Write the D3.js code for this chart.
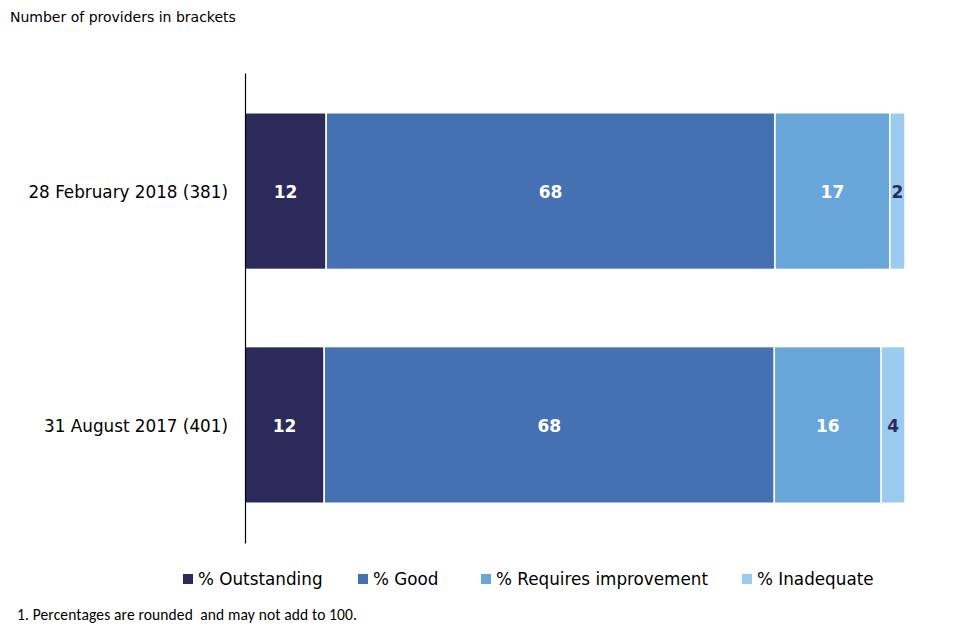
<!DOCTYPE html>
<html><head><meta charset="utf-8">
<script src="https://cdn.jsdelivr.net/npm/d3@7"></script>
<style>body{margin:0;background:#fff}</style>
</head><body>
<svg id="c" width="960" height="640"></svg>
<script>
const categories = ["28 February 2018 (381)", "31 August 2017 (401)"];
const seriesNames = ["% Outstanding", "% Good", "% Requires improvement", "% Inadequate"];
const outstanding = [12.3, 12.0];
const good = [68.0, 68.2];
const requiresImprovement = [17.4, 16.2];
const inadequate = [2.3, 3.6];
const labels = [[12, 68, 17, 2], [12, 68, 16, 4]];
const colors = ["#2b2a5a", "#4571b3", "#68a6da", "#9ccbf0"];
const labelColors = ["#fff", "#fff", "#fff", "#2b2a5a"];

const font = "'DejaVu Sans', Tahoma, sans-serif";
const svg = d3.select("#c");
const x0 = 245, x1 = 905, yTop = 73, yBot = 543;

const data = categories.map((c, i) => ({cat: c, vals: [outstanding[i], good[i], requiresImprovement[i], inadequate[i]], labs: labels[i]}));
const x = d3.scaleLinear().domain([0, 100]).range([x0, x1]);
const y = d3.scaleBand().domain(categories).range([yTop, yBot]).paddingInner(0.33).paddingOuter(0.17);

svg.append("text").attr("x", 10).attr("y", 22).attr("font-family", font).attr("font-size", 14).attr("fill", "#000").text("Number of providers in brackets");

data.forEach((d, i) => {
  let acc = 0;
  const g = svg.append("g");
  d.vals.forEach((v, j) => {
    const xs = x(acc), xe = x(acc + v);
    g.append("rect").attr("x", xs).attr("y", y(d.cat)).attr("width", xe - xs).attr("height", y.bandwidth())
      .attr("fill", colors[j]).attr("stroke", "#fff").attr("stroke-width", 1.5);
    g.append("text").attr("x", (xs + xe) / 2).attr("y", y(d.cat) + y.bandwidth() / 2).attr("dy", "0.42em")
      .attr("text-anchor", "middle").attr("font-family", font).attr("font-weight", "bold").attr("font-size", 17)
      .attr("fill", labelColors[j]).text(d.labs[j]);
    acc += v;
  });
});

const yAxis = d3.axisLeft(y).tickSize(0).tickPadding(17);
const ya = svg.append("g").attr("transform", `translate(${x0},0)`).call(yAxis);
ya.select(".domain").attr("stroke", "#000").attr("stroke-width", 1.2);
ya.selectAll("text").attr("font-family", font).attr("font-size", 16.8).attr("fill", "#000").attr("dy", "0.42em");

const legendX = [183, 358, 481, 742];
const lg = svg.append("g");
seriesNames.forEach((n, j) => {
  lg.append("rect").attr("x", legendX[j]).attr("y", 574).attr("width", 10).attr("height", 10).attr("fill", colors[j]);
  lg.append("text").attr("x", legendX[j] + 15).attr("y", 579).attr("dy", "0.38em").attr("font-family", font)
    .attr("font-size", 16.8).attr("fill", "#000").text(n);
});

svg.append("text").attr("x", 17).attr("y", 620).attr("font-family", "Carlito, Calibri, Lato, 'Open Sans', sans-serif").attr("font-size", 15.5)
  .attr("fill", "#000").attr("textLength", 340).attr("lengthAdjust", "spacing").style("white-space", "pre")
  .text("1. Percentages are rounded  and may not add to 100.");
</script>
</body></html>
